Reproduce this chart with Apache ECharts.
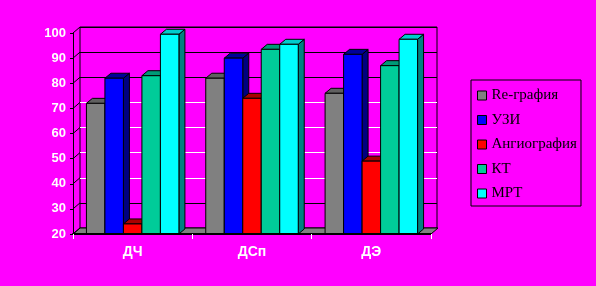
<!DOCTYPE html>
<html><head><meta charset="utf-8">
<script src="https://cdn.jsdelivr.net/npm/echarts@6/dist/echarts.min.js"></script>
<style>html,body{margin:0;padding:0;background:#ff00ff}#c{width:596px;height:286px}</style>
</head><body><div id="c"></div>
<script>
const categories = ['ДЧ', 'ДСп', 'ДЭ'];
const seriesNames = ['Re-графия', 'УЗИ', 'Ангиография', 'КТ', 'МРТ'];
const regrafia = [72, 82, 76];
const uzi = [82, 90, 91.5];
const angio = [24, 74, 49];
const kt = [83, 93.5, 87];
const mrt = [99.5, 95.5, 97.5];
const yTicks = [20, 30, 40, 50, 60, 70, 80, 90, 100];

const Y_MIN = 20, Y_MAX = 100;
const allValues = [regrafia, uzi, angio, kt, mrt];
const frontColors = ['#808080', '#0000ff', '#ff0000', '#00cc99', '#00ffff'];
const topColors = ['#606060', '#000099', '#aa0000', '#009977', '#00cccc'];
const sideColors = ['#404040', '#000080', '#800000', '#008066', '#008080'];
const DX = 6, DY = -5;      // bar depth
const WX = 7, WY = -6;      // wall depth
const BAR_FRAC = 0.155;

function barRender(si) {
  return function (params, api) {
    const cat = api.value(0), v = api.value(1);
    const p = api.coord([cat, v]);
    const b = api.coord([cat, Y_MIN]);
    const cw = api.size([1, 0])[0];
    const bw = cw * BAR_FRAC;
    const x0 = p[0] - 2.5 * bw + si * bw, x1 = x0 + bw;
    const yt = p[1], yb = b[1];
    const st = { stroke: '#000', lineWidth: 1 };
    return { type: 'group', children: [
      { type: 'polygon', shape: { points: [[x1, yt], [x1 + DX, yt + DY], [x1 + DX, yb + DY], [x1, yb]] }, style: Object.assign({ fill: sideColors[si] }, st) },
      { type: 'polygon', shape: { points: [[x0, yt], [x0 + DX, yt + DY], [x1 + DX, yt + DY], [x1, yt]] }, style: Object.assign({ fill: topColors[si] }, st) },
      { type: 'rect', shape: { x: x0, y: yt, width: bw, height: yb - yt }, style: Object.assign({ fill: frontColors[si] }, st) }
    ]};
  };
}

function floorRender(params, api) {
  const cw = api.size([1, 0])[0];
  const a = api.coord([0, Y_MIN]);
  const z = api.coord([categories.length - 1, Y_MIN]);
  const L = a[0] - cw / 2, R = z[0] + cw / 2, y = a[1];
  return { type: 'polygon', shape: { points: [[L, y], [R, y], [R + WX, y + WY], [L + WX, y + WY]] },
    style: { fill: '#808080', stroke: '#000', lineWidth: 1 } };
}

function wallRender(params, api) {
  const cw = api.size([1, 0])[0];
  const c = api.coord([0, api.value(1)]);
  const L = c[0] - cw / 2;
  return { type: 'line', shape: { x1: L, y1: c[1], x2: L + WX, y2: c[1] + WY },
    style: { stroke: '#000', lineWidth: 1 } };
}

const series = [
  { type: 'custom', name: '_floor', xAxisIndex: 0, yAxisIndex: 0, renderItem: floorRender, data: [[0, Y_MIN]], z: 1, silent: true },
  { type: 'custom', name: '_wall', xAxisIndex: 0, yAxisIndex: 0, renderItem: wallRender, data: yTicks.map(t => [0, t]), z: 1, silent: true }
];
seriesNames.forEach((n, i) => {
  series.push({
    type: 'custom', name: n, xAxisIndex: 0, yAxisIndex: 0, z: 2 + i,
    renderItem: barRender(i), itemStyle: { color: frontColors[i] },
    data: allValues[i].map((v, k) => [k, v])
  });
});

const labelStyle = { color: '#fff', fontFamily: 'Liberation Sans', fontWeight: 'bold', fontSize: 13,
  textShadowColor: '#000', textShadowOffsetX: 1, textShadowOffsetY: 1, textShadowBlur: 0 };

const chart = echarts.init(document.getElementById('c'), null, { renderer: 'canvas' });
chart.setOption({
  backgroundColor: '#ff00ff',
  animation: false,
  grid: [
    { left: 73, right: 165, top: 33, bottom: 52 },
    { left: 80, right: 159, top: 27, bottom: 58, show: true, borderColor: '#000', borderWidth: 1, backgroundColor: 'transparent' }
  ],
  xAxis: [
    { type: 'category', gridIndex: 0, data: categories,
      axisLine: { lineStyle: { color: '#000', width: 2 } },
      axisTick: { show: true, length: 5, lineStyle: { color: '#fff' } },
      axisLabel: Object.assign({}, labelStyle, { margin: 11, fontSize: 14 }), z: 20 },
    { type: 'category', gridIndex: 1, data: categories, show: false }
  ],
  yAxis: [
    { type: 'value', gridIndex: 0, min: Y_MIN, max: Y_MAX, interval: 10,
      axisLine: { show: true, lineStyle: { color: '#000' } },
      axisTick: { show: true, length: 3, lineStyle: { color: '#000' } },
      splitLine: { show: false },
      axisLabel: Object.assign({ margin: 7 }, labelStyle) },
    { type: 'value', gridIndex: 1, min: Y_MIN, max: Y_MAX, interval: 10,
      axisLine: { show: false }, axisTick: { show: false }, axisLabel: { show: false },
      splitLine: { show: true, lineStyle: { color: ['#000', '#000', '#fff', '#fff', '#fff', '#fff', '#000', '#000', '#000'], width: 1 } } }
  ],
  legend: {
    orient: 'vertical', left: 471, top: 80,
    padding: [8, 4, 5, 6], itemGap: 9.5, itemWidth: 9, itemHeight: 9,
    borderColor: '#000', borderWidth: 1,
    icon: 'rect',
    textStyle: { color: '#000', fontFamily: 'Liberation Serif', fontSize: 15, lineHeight: 15 },
    data: seriesNames.map((n, i) => ({ name: n, itemStyle: { color: frontColors[i], borderColor: '#000', borderWidth: 1 } }))
  },
  series: series
});
</script>
</body></html>
